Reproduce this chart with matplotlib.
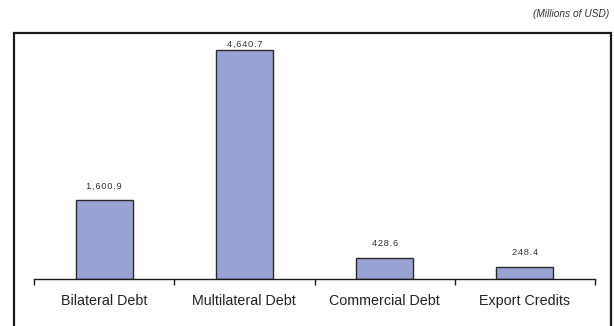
import matplotlib.pyplot as plt
from matplotlib.patches import Rectangle

categories = ["Bilateral Debt", "Multilateral Debt", "Commercial Debt", "Export Credits"]
values = [1600.9, 4640.7, 428.6, 248.4]
value_labels = ["1,600.9", "4,640.7", "428.6", "248.4"]

W, H = 614, 326
fig = plt.figure(figsize=(W / 100, H / 100), dpi=100)

# outer box, open at the bottom edge
fig.patches.append(Rectangle((13.5 / W, -0.05), (611 - 13.5) / W, (H - 33) / H + 0.05,
                             transform=fig.transFigure, fill=False,
                             edgecolor="#1a1a1a", linewidth=1.6))

fig.text(609 / W, 1 - 14 / H, "(Millions of USD)", ha="right", va="center",
         fontsize=7.3, style="italic", color="#333333", family="Liberation Sans")

ax = fig.add_axes([34 / W, (H - 279) / H, (595 - 34) / W, (279 - 36) / H])

x = range(len(categories))
ax.bar(x, values, width=0.405, color="#99a3d3", edgecolor="#2a2a2a", linewidth=1.0)

ymax = 4640.7 * (279 - 36) / (279 - 50)
ax.set_xlim(-0.5, len(categories) - 0.5)
ax.set_ylim(0, ymax)

# spaced-out digits for the value labels, kept inside the plot area
for i, (v, lab) in enumerate(zip(values, value_labels)):
    spaced = "\u200a".join(lab)
    ypos = min(v + 190, ymax - 250)
    ax.text(i, ypos, spaced, ha="center", va="bottom", fontsize=6.7,
            color="#333333", family=["Liberation Sans", "DejaVu Sans"])

for s in ["left", "right", "top"]:
    ax.spines[s].set_visible(False)
ax.spines["bottom"].set_color("#1a1a1a")
ax.spines["bottom"].set_linewidth(1.0)

ax.set_yticks([])
ax.set_xticks([i - 0.5 for i in range(len(categories) + 1)])
ax.set_xticklabels([])
ax.set_xticks(list(x), minor=True)
ax.set_xticklabels(categories, minor=True, fontsize=10.3, color="#222222",
                   family="Liberation Sans")
ax.tick_params(axis="x", which="major", direction="out", length=4, width=1, color="#1a1a1a")
ax.tick_params(axis="x", which="minor", length=0, pad=11)

fig.savefig("out.png", dpi=100)
